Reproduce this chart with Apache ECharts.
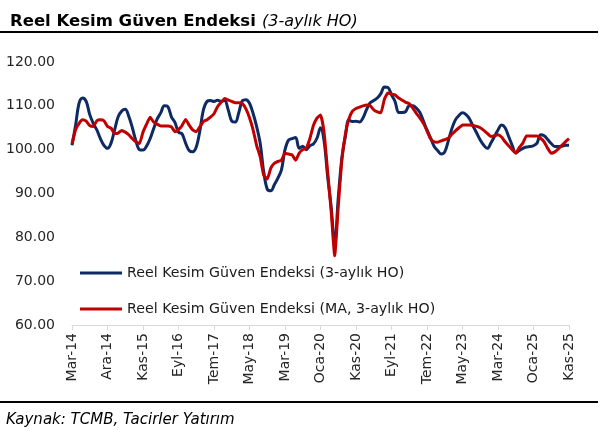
<!DOCTYPE html>
<html>
<head>
<meta charset="utf-8">
<script src="https://cdn.jsdelivr.net/npm/echarts@6/dist/echarts.min.js"></script>
<style>
html,body{margin:0;padding:0;background:#fff;}
#chart{width:600px;height:438px;}
</style>
</head>
<body>
<div id="chart"></div>
<script>
// Months Mar-14 .. Kas-25 (141 monthly points)
const monthNames = ['Oca','Şub','Mar','Nis','May','Haz','Tem','Ağu','Eyl','Eki','Kas','Ara'];
const startYear = 2014, startMonth = 2, nMonths = 141;
const categories = [];
for (let i = 0; i < nMonths; i++) {
  const m = (startMonth + i) % 12, y = startYear + Math.floor((startMonth + i) / 12);
  categories.push(monthNames[m] + '-' + String(y).slice(2));
}
const tickLabels = ['Mar-14','Ara-14','Kas-15','Eyl-16','Tem-17','May-18','Mar-19','Oca-20','Kas-20','Eyl-21','Tem-22','May-23','Mar-24','Oca-25','Kas-25'];
const yTicks = [60, 70, 80, 90, 100, 110, 120];

const seriesNames = ['Reel Kesim Güven Endeksi (3-aylık HO)', 'Reel Kesim Güven Endeksi (MA, 3-aylık HO)'];

const rkgeHO = [
  101, 105.5, 110.6, 111.8, 111, 108, 106, 104.5, 102.5, 101,
  100.3, 101.5, 104.5, 107.5, 108.8, 109.2, 107.6, 105, 102, 100,
  99.9, 100.8, 102.5, 104.8, 107, 108.4, 110, 109.8, 107.5, 106.2,
  104, 103.6, 101.5, 99.8, 99.5, 100.6, 104.2, 109, 111, 111.2,
  111, 111.3, 111, 111.2, 109.1, 106.5, 106.3, 108.5, 111.2, 111.4,
  110.6, 108.3, 105.3, 101.5, 95, 91, 90.6, 92, 93.5, 95.4,
  100, 102.2, 102.5, 102.8, 100.3, 100.8, 100, 100.9, 101.3, 102.6,
  105, 102, 94, 87, 78.5, 89, 98, 103, 106.8, 106.4,
  106.5, 106.3, 107.3, 109.2, 110.7, 111.2, 111.8, 112.8, 114.3, 114.2,
  112.5, 111, 108.5, 108.5, 108.7, 110, 110, 109.5, 108.5, 106.5,
  104.5, 102.7, 100.8, 99.8, 99, 99.5, 102, 104.8, 106.8, 107.8,
  108.4, 108, 107, 105.3, 103.8, 102.2, 101, 100.3, 101.5, 103,
  104.5, 105.6, 105, 103, 101, 99.3, 99.8, 100.3, 100.6, 100.7,
  100.9, 101.5, 103.4, 103.2, 102.3, 101.4, 100.7, 100.7, 100.8, 101,
  101
];
const rkgeMA = [
  101.3, 104.5, 106, 106.8, 106.5, 105.5, 105.3, 106.6, 106.8, 106.6,
  105.3, 104.9, 103.7, 103.8, 104.4, 104, 103.4, 102.5, 101.8, 101.4,
  104, 105.8, 107.4, 106.3, 105.8, 105.4, 105.4, 105.4, 105.2, 104.1,
  104.6, 105.5, 106.9, 105.6, 104.5, 104.1, 105.2, 106.4, 106.8, 107.4,
  108.2, 109.8, 110.8, 111.7, 111.3, 111, 110.7, 110.7, 110.5, 109.3,
  107.3, 104.6, 101, 98.4, 94.2, 93.3, 95.8, 96.9, 97.3, 97.6,
  99.2, 99, 98.8, 97.6, 99.2, 100, 100.4, 102.5, 105.5, 107.2,
  107.9, 104, 95, 86, 75.8, 87, 97.5, 103.5, 107, 108.8,
  109.4, 109.7, 110, 110.2, 110, 109.1, 108.6, 108.4, 111.5, 112.9,
  112.7, 112.5, 111.8, 111.3, 110.8, 110.5, 109.5, 108.3, 107.2, 106,
  104.3, 102.5, 101.8, 101.7, 102, 102.3, 102.6, 103.5, 104.3, 105,
  105.6, 105.6, 105.6, 105.5, 105.3, 105, 104.4, 103.7, 103, 103.2,
  103.4, 102.9, 101.8, 100.9, 100, 99.2, 100.5, 101.5, 103.1, 103.1,
  103.1, 103.1, 102.6, 101.8, 100.3, 99.2, 99.5, 100.2, 101, 101.8,
  102.5
];

const FONT = '"DejaVu Sans", "Open Sans", sans-serif';
const chart = echarts.init(document.getElementById('chart'), null, {renderer: 'canvas'});
chart.setOption({
  animation: false,
  backgroundColor: '#ffffff',
  textStyle: {fontFamily: FONT},
  title: {
    left: 5, top: 8,
    text: '{b|Reel Kesim Güven Endeksi} {i|(3-aylık HO)}',
    textStyle: {
      rich: {
        b: {fontFamily: FONT, fontSize: 16.5, fontWeight: 'bold', color: '#000'},
        i: {fontFamily: FONT, fontSize: 16, fontStyle: 'italic', fontWeight: 'normal', color: '#000'}
      }
    }
  },
  graphic: [
    {type: 'line', shape: {x1: 0, y1: 32, x2: 598, y2: 32}, style: {stroke: '#000', lineWidth: 2}},
    {type: 'line', shape: {x1: 0, y1: 402, x2: 598, y2: 402}, style: {stroke: '#000', lineWidth: 2}},
    {type: 'text', left: 6, top: 413, style: {text: 'Kaynak: TCMB, Tacirler Yatırım', font: 'italic 15px ' + FONT, fill: '#000'}}
  ],
  legend: {
    orient: 'vertical', left: 75, top: 260,
    icon: 'rect', itemWidth: 42, itemHeight: 3, itemGap: 20,
    textStyle: {fontSize: 14.2, color: '#1a1a1a', lineHeight: 16, fontFamily: FONT},
    data: seriesNames
  },
  grid: {left: 72, right: 31, top: 62, bottom: 113},
  xAxis: {
    type: 'category', boundaryGap: false, data: categories,
    axisLine: {lineStyle: {color: '#d9d9d9', width: 1}},
    axisTick: {interval: 9, length: 5, lineStyle: {color: '#d9d9d9'}},
    axisLabel: {
      interval: 9, rotate: 90, margin: 8, fontSize: 14, color: '#262626', fontFamily: FONT,
      formatter: function (v, idx) { return tickLabels[Math.round(idx / 10)]; }
    },
    splitLine: {show: false}
  },
  yAxis: {
    type: 'value', min: yTicks[0], max: yTicks[yTicks.length - 1], interval: 10,
    axisLine: {show: false}, axisTick: {show: false}, splitLine: {show: false},
    axisLabel: {fontSize: 14, color: '#262626', margin: 17, fontFamily: FONT, formatter: v => v.toFixed(2)}
  },
  series: [
    {name: seriesNames[0], type: 'line', data: rkgeHO, smooth: 0.35, showSymbol: false, symbol: 'none',
     lineStyle: {color: '#0d2a63', width: 3}, itemStyle: {color: '#0d2a63'}, z: 2},
    {name: seriesNames[1], type: 'line', data: rkgeMA, smooth: 0.15, showSymbol: false, symbol: 'none',
     lineStyle: {color: '#c00000', width: 3}, itemStyle: {color: '#c00000'}, z: 3}
  ]
});
</script>
</body>
</html>
